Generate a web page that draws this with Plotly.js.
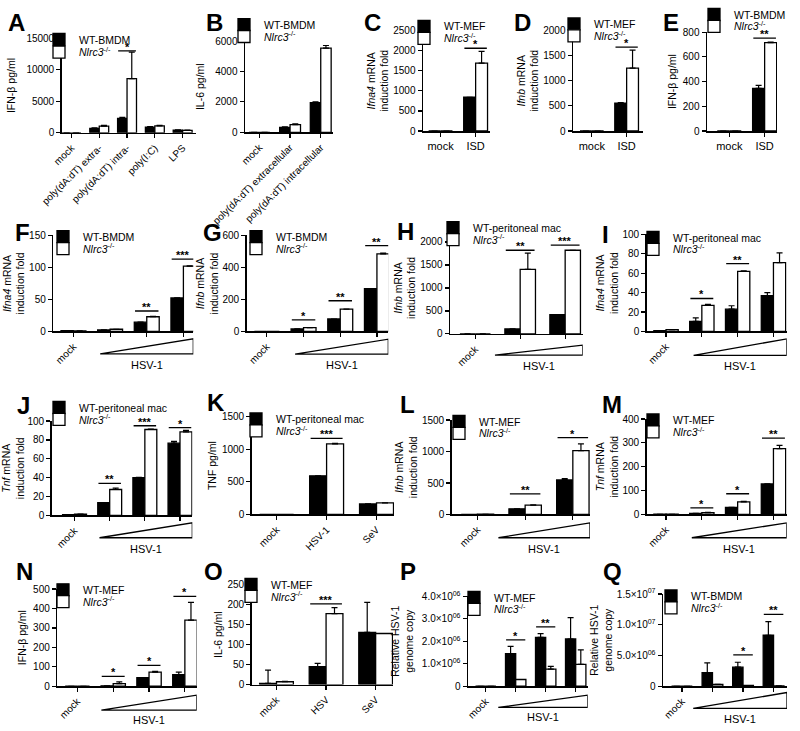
<!DOCTYPE html>
<html><head><meta charset="utf-8">
<script src="https://cdn.plot.ly/plotly-3.0.1.min.js"></script>
<style>html,body{margin:0;padding:0;background:#fff}#chart{width:800px;height:731px}</style>
</head><body><div id="chart"></div>
<script>
// ---------------- DATA ----------------
const KO_NAME = '<i>Nlrc3</i><sup>-/-</sup>';
const HSV_TICKS4 = ['mock', '', '', ''];
const HSV_TICKS3 = ['mock', '', ''];
const HSV_GROUPS4 = ['mock', 'HSV-1 low', 'HSV-1 mid', 'HSV-1 high'];
const HSV_GROUPS3 = ['mock', 'HSV-1 low', 'HSV-1 high'];

// A
const A_groups = ['mock', 'poly(dA:dT) extra-', 'poly(dA:dT) intra-', 'poly(I:C)', 'LPS'];
const A_wt = [0, 700, 2300, 900, 400];
const A_wtErr = [0, 80, 150, 100, 60];
const A_ko = [0, 1050, 8600, 1100, 380];
const A_koErr = [0, 120, 4200, 80, 50];
const A_yTicks = [0, 5000, 10000, 15000];
const A_sigGroup = [2], A_sigY = [13000], A_sigText = ['*'];
// B
const B_groups = ['mock', 'poly(dA:dT) extracellular', 'poly(dA:dT) intracellular'];
const B_wt = [0, 320, 1950];
const B_wtErr = [0, 40, 60];
const B_ko = [0, 500, 5540];
const B_koErr = [0, 60, 170];
const B_yTicks = [0, 2000, 4000, 6000];
const B_sigGroup = [2], B_sigY = [6250], B_sigText = ['**'];
// C
const C_groups = ['mock', 'ISD'];
const C_wt = [0, 840], C_wtErr = [0, 0];
const C_ko = [0, 1690], C_koErr = [0, 290];
const C_yTicks = [0, 500, 1000, 1500, 2000, 2500];
const C_sigGroup = [1], C_sigY = [2060], C_sigText = ['*'];
// D
const D_groups = ['mock', 'ISD'];
const D_wt = [0, 555], D_wtErr = [0, 10];
const D_ko = [0, 1250], D_koErr = [0, 360];
const D_yTicks = [0, 500, 1000, 1500, 2000];
const D_sigGroup = [1], D_sigY = [1670], D_sigText = ['*'];
// E
const E_groups = ['mock', 'ISD'];
const E_wt = [0, 345], E_wtErr = [0, 25];
const E_ko = [0, 715], E_koErr = [0, 5];
const E_yTicks = [0, 200, 400, 600, 800];
const E_sigGroup = [1], E_sigY = [752], E_sigText = ['**'];
// F
const F_wt = [1.5, 2.5, 14.5, 52.5], F_wtErr = [0, 0, 0, 0];
const F_ko = [1, 3.5, 23, 102], F_koErr = [0, 0, 0.5, 0.5];
const F_yTicks = [0, 50, 100, 150];
const F_sigGroup = [2, 3], F_sigY = [32, 113], F_sigText = ['**', '***'];
// G
const G_wt = [0, 16, 78, 268], G_wtErr = [0, 0, 0, 0];
const G_ko = [0, 24, 140, 485], G_koErr = [0, 0, 0, 5];
const G_yTicks = [0, 200, 400, 600];
const G_sigGroup = [1, 2, 3], G_sigY = [72, 192, 536], G_sigText = ['*', '**', '**'];
// H
const H_wt = [0, 108, 418], H_wtErr = [0, 0, 0];
const H_ko = [0, 1406, 1820], H_koErr = [0, 350, 0];
const H_yTicks = [0, 500, 1000, 1500, 2000];
const H_sigGroup = [1, 2], H_sigY = [1820, 1930], H_sigText = ['**', '***'];
// I
const I_wt = [1, 10.5, 23, 37], I_wtErr = [0, 3.5, 3.5, 3];
const I_ko = [2, 27, 62, 71], I_koErr = [0, 1, 0.5, 10];
const I_yTicks = [0, 20, 40, 60, 80, 100];
const I_sigGroup = [1, 2], I_sigY = [34, 70], I_sigText = ['*', '**'];
// J
const J_wt = [1, 13.5, 40, 76.5], J_wtErr = [0, 0, 0.5, 2];
const J_ko = [1.5, 27.5, 91, 88.5], J_koErr = [0, 1.5, 0.5, 1.5];
const J_yTicks = [0, 20, 40, 60, 80, 100];
const J_sigGroup = [1, 2, 3], J_sigY = [34, 95, 93], J_sigText = ['**', '***', '*'];
// K
const K_groups = ['mock', 'HSV-1', 'SeV'];
const K_wt = [0, 594, 162], K_wtErr = [0, 0, 0];
const K_ko = [0, 1082, 177], K_koErr = [0, 10, 0];
const K_yTicks = [0, 500, 1000, 1500];
const K_sigGroup = [1], K_sigY = [1168], K_sigText = ['***'];
// L
const L_wt = [0, 90, 548], L_wtErr = [0, 0, 20];
const L_ko = [4, 148, 1015], L_koErr = [0, 5, 105];
const L_yTicks = [0, 500, 1000, 1500];
const L_sigGroup = [1, 2], L_sigY = [326, 1220], L_sigText = ['**', '*'];
// M
const M_wt = [1, 5, 30, 128], M_wtErr = [0, 0, 0, 0];
const M_ko = [1, 8, 53, 276], M_koErr = [0, 1, 2, 14];
const M_yTicks = [0, 100, 200, 300, 400];
const M_sigGroup = [1, 2, 3], M_sigY = [28, 87, 320], M_sigText = ['*', '*', '**'];
// N
const N_wt = [0, 2, 44, 60], N_wtErr = [0, 0, 0, 13];
const N_ko = [0, 13, 73, 340], N_koErr = [0, 9, 4, 92];
const N_yTicks = [0, 100, 200, 300, 400, 500];
const N_sigGroup = [1, 2, 3], N_sigY = [51, 107, 462], N_sigText = ['*', '*', '*'];
// O
const O_groups = ['mock', 'HSV', 'SeV'];
const O_wt = [3, 45, 131], O_wtErr = [33, 8, 75];
const O_ko = [7, 178, 128], O_koErr = [1, 15, 0];
const O_yTicks = [0, 50, 100, 150, 200, 250];
const O_sigGroup = [1], O_sigY = [202], O_sigText = ['***'];
// P
const P_wt = [0, 1.45e6, 2.17e6, 2.1e6], P_wtErr = [0, 0.32e6, 0.17e6, 0.95e6];
const P_ko = [0, 0.3e6, 0.76e6, 0.97e6], P_koErr = [0, 0, 0.12e6, 0.65e6];
const P_yTicks = [0, 1e6, 2e6, 3e6, 4e6];
const P_yTickText = ['0', '1.0×10<sup>06</sup>', '2.0×10<sup>06</sup>', '3.0×10<sup>06</sup>', '4.0×10<sup>06</sup>'];
const P_sigGroup = [1, 2], P_sigY = [2.06e6, 2.64e6], P_sigText = ['*', '**'];
// Q
const Q_wt = [0, 2.2e6, 3.1e6, 8.3e6], Q_wtErr = [0, 1.6e6, 0.8e6, 2.2e6];
const Q_ko = [0, 0.3e6, 0.12e6, 0.05e6], Q_koErr = [0, 0, 0, 0];
const Q_yTicks = [0, 5e6, 1e7, 1.5e7];
const Q_yTickText = ['0', '5.0×10<sup>06</sup>', '1.0×10<sup>07</sup>', '1.5×10<sup>07</sup>'];
const Q_sigGroup = [2, 3], Q_sigY = [5.1e6, 1.17e7], Q_sigText = ['*', '**'];

// ---------------- PANEL SETUP (layout only) ----------------
const FONT = 'Liberation Sans, Arial, Helvetica, sans-serif';
const W = 800, H = 731;
const fx = p => p / W, fy = p => 1 - p / H;
const T_IFNA4 = '<i>Ifna4</i> mRNA<br>induction fold';
const T_IFNB = '<i>Ifnb</i> mRNA<br>induction fold';
const T_TNF = '<i>Tnf</i> mRNA<br>induction fold';
const T_HSV = 'Relative HSV-1<br>genome copy';

const panels = [
 {L:'A', g:A_groups, tl:A_groups, wt:A_wt, we:A_wtErr, ko:A_ko, ke:A_koErr, yt:A_yTicks, sg:A_sigGroup, sy:A_sigY, st:A_sigText, wn:'WT-BMDM', title:'IFN-β pg/ml', box:[61.7,34.5,196,129.5], xr:[-0.35,4.48], ang:-45, lg:[78,35.7,48.3], let:[16,19], so:8},
 {L:'B', g:B_groups, tl:B_groups, wt:B_wt, we:B_wtErr, ko:B_ko, ke:B_koErr, yt:B_yTicks, sg:B_sigGroup, sy:B_sigY, st:B_sigText, wn:'WT-BMDM', title:'IL-6 pg/ml', box:[245,37.3,333,129], xr:[-0.47,2.4], ang:-45, lg:[263,21.7,31.7], let:[214,19], so:8},
 {L:'C', g:C_groups, tl:C_groups, wt:C_wt, we:C_wtErr, ko:C_ko, ke:C_koErr, yt:C_yTicks, sg:C_sigGroup, sy:C_sigY, st:C_sigText, wn:'WT-MEF', title:T_IFNA4, box:[423,26.7,490,127.7], xr:[-0.5,1.41], ang:0, lg:[443,23.5,33.5], let:[372,19], so:2},
 {L:'D', g:D_groups, tl:D_groups, wt:D_wt, we:D_wtErr, ko:D_ko, ke:D_koErr, yt:D_yTicks, sg:D_sigGroup, sy:D_sigY, st:D_sigText, wn:'WT-MEF', title:T_IFNB, box:[573,26.7,643,127.7], xr:[-0.54,1.47], ang:0, lg:[593,21,31], let:[522,19], so:2},
 {L:'E', g:E_groups, tl:E_groups, wt:E_wt, we:E_wtErr, ko:E_ko, ke:E_koErr, yt:E_yTicks, sg:E_sigGroup, sy:E_sigY, st:E_sigText, wn:'WT-BMDM', title:'IFN-β pg/ml', box:[707,28.3,777,127.7], xr:[-0.63,1.35], ang:0, lg:[733,11.5,21.5], let:[671,19], so:4},
 {L:'F', g:HSV_GROUPS4, tl:HSV_TICKS4, wt:F_wt, we:F_wtErr, ko:F_ko, ke:F_koErr, yt:F_yTicks, sg:F_sigGroup, sy:F_sigY, st:F_sigText, wn:'WT-BMDM', title:T_IFNA4, box:[53.3,232.7,193.3,329.3], xr:[-0.55,3.27], ang:-45, lg:[82,235,245], let:[22,230], so:2, tri:[0.73,336.7,351.7,363.3]},
 {L:'G', g:HSV_GROUPS4, tl:HSV_TICKS4, wt:G_wt, we:G_wtErr, ko:G_ko, ke:G_koErr, yt:G_yTicks, sg:G_sigGroup, sy:G_sigY, st:G_sigText, wn:'WT-BMDM', title:T_IFNB, box:[246.7,232.7,388.3,329.3], xr:[-0.55,3.31], ang:-45, lg:[275,235,245], let:[212,230], so:2, tri:[0.77,337,352,363.3]},
 {L:'H', g:HSV_GROUPS3, tl:HSV_TICKS3, wt:H_wt, we:H_wtErr, ko:H_ko, ke:H_koErr, yt:H_yTicks, sg:H_sigGroup, sy:H_sigY, st:H_sigText, wn:'WT-peritoneal mac', title:T_IFNB, box:[450,239.3,582.7,331.7], xr:[-0.56,2.39], ang:-45, lg:[472,226,236], let:[405,229], so:2, tri:[0.44,343,353,364]},
 {L:'I', g:HSV_GROUPS4, tl:HSV_TICKS4, wt:I_wt, we:I_wtErr, ko:I_ko, ke:I_koErr, yt:I_yTicks, sg:I_sigGroup, sy:I_sigY, st:I_sigText, wn:'WT-peritoneal mac', title:T_IFNA4, box:[646.7,231.7,786.7,329.3], xr:[-0.54,3.37], ang:-45, lg:[672,235.7,245.7], let:[605,232], so:2, tri:[0.77,336.7,353.3,364]},
 {L:'J', g:HSV_GROUPS4, tl:HSV_TICKS4, wt:J_wt, we:J_wtErr, ko:J_ko, ke:J_koErr, yt:J_yTicks, sg:J_sigGroup, sy:J_sigY, st:J_sigText, wn:'WT-peritoneal mac', title:T_TNF, box:[51.7,419.3,192.3,514.3], xr:[-0.65,3.35], ang:-45, lg:[78,406.7,416.7], let:[23,404], so:2, tri:[0.71,521.7,536.7,548.3]},
 {L:'K', g:K_groups, tl:K_groups, wt:K_wt, we:K_wtErr, ko:K_ko, ke:K_koErr, yt:K_yTicks, sg:K_sigGroup, sy:K_sigY, st:K_sigText, wn:'WT-peritoneal mac', title:'TNF pg/ml', box:[251.7,415,394,513.3], xr:[-0.5,2.35], ang:-45, lg:[275,418.3,428.3], let:[216,401], so:3},
 {L:'L', g:HSV_GROUPS3, tl:HSV_TICKS3, wt:L_wt, we:L_wtErr, ko:L_ko, ke:L_koErr, yt:L_yTicks, sg:L_sigGroup, sy:L_sigY, st:L_sigText, wn:'WT-MEF', title:T_IFNB, box:[451.7,418.3,590,513.3], xr:[-0.54,2.36], ang:-45, lg:[478,420.7,430.7], let:[407,403], so:2, tri:[0.44,521.7,536.7,548.3]},
 {L:'M', g:HSV_GROUPS4, tl:HSV_TICKS4, wt:M_wt, we:M_wtErr, ko:M_ko, ke:M_koErr, yt:M_yTicks, sg:M_sigGroup, sy:M_sigY, st:M_sigText, wn:'WT-MEF', title:T_TNF, box:[646.7,417.3,786.7,513.3], xr:[-0.54,3.37], ang:-45, lg:[672,419.3,429.3], let:[612,403], so:2, tri:[0.72,521.7,536.7,548.3]},
 {L:'N', g:HSV_GROUPS4, tl:HSV_TICKS4, wt:N_wt, we:N_wtErr, ko:N_ko, ke:N_koErr, yt:N_yTicks, sg:N_sigGroup, sy:N_sigY, st:N_sigText, wn:'WT-MEF', title:'IFN-β pg/ml', box:[57.3,588.3,196.7,686], xr:[-0.56,3.33], ang:-45, lg:[82,590,600], let:[24,571], so:4, tri:[0.67,695,710,720]},
 {L:'O', g:O_groups, tl:O_groups, wt:O_wt, we:O_wtErr, ko:O_ko, ke:O_koErr, yt:O_yTicks, sg:O_sigGroup, sy:O_sigY, st:O_sigText, wn:'WT-MEF', title:'IL-6 pg/ml', box:[251.7,584,393,684.3], xr:[-0.5,2.35], ang:-45, lg:[270,584.3,595], let:[213,571], so:3},
 {L:'P', g:HSV_GROUPS4, tl:HSV_TICKS4, wt:P_wt, we:P_wtErr, ko:P_ko, ke:P_koErr, yt:P_yTicks, ytt:P_yTickText, sg:P_sigGroup, sy:P_sigY, st:P_sigText, wn:'WT-MEF', title:T_HSV, box:[468,595.5,587.7,686], xr:[-0.59,3.4], ang:-45, lg:[493,597.7,607.7], let:[408,571], so:6, tri:[0.42,695,707.3,716.7]},
 {L:'Q', g:HSV_GROUPS4, tl:HSV_TICKS4, wt:Q_wt, we:Q_wtErr, ko:Q_ko, ke:Q_koErr, yt:Q_yTicks, ytt:Q_yTickText, sg:Q_sigGroup, sy:Q_sigY, st:Q_sigText, wn:'WT-BMDM', title:T_HSV, box:[663,593.3,787,686], xr:[-0.62,3.44], ang:-45, lg:[690,595.7,606.7], let:[612,571], so:2, tri:[0.37,692.3,708.3,719.3]}
];

const traces = [];
const layout = {
  width: W, height: H, margin: {l:0, r:0, t:0, b:0},
  paper_bgcolor: 'white', plot_bgcolor: 'rgba(0,0,0,0)',
  font: {family: FONT, size: 10, color: 'black'},
  barmode: 'group', bargap: 0.32, bargroupgap: 0,
  showlegend: true, annotations: [], shapes: []
};

panels.forEach((p, i) => {
  const n = i + 1;
  const xr = n === 1 ? 'x' : 'x' + n, yr = n === 1 ? 'y' : 'y' + n;
  const xk = n === 1 ? 'xaxis' : 'xaxis' + n, yk = n === 1 ? 'yaxis' : 'yaxis' + n;
  const l1 = (2 * i + 1) === 1 ? 'legend' : 'legend' + (2 * i + 1);
  const l2 = 'legend' + (2 * i + 2);
  const idx = p.g.map((_, k) => k);
  const zeros = p.g.map(() => 0);
  traces.push({type:'bar', name:p.wn, x:idx, y:p.wt, xaxis:xr, yaxis:yr, legend:l1, showlegend:true,
    hovertext:p.g, marker:{color:'black', line:{color:'black', width:1.3}},
    error_y:{type:'data', symmetric:false, array:p.we, arrayminus:zeros, color:'black', thickness:1.2, width:3}});
  traces.push({type:'bar', name:KO_NAME, x:idx, y:p.ko, xaxis:xr, yaxis:yr, legend:l2, showlegend:true,
    hovertext:p.g, marker:{color:'white', line:{color:'black', width:1.3}},
    error_y:{type:'data', symmetric:false, array:p.ke, arrayminus:zeros, color:'black', thickness:1.2, width:3}});
  const [bl, bt, br, bb] = p.box;
  // labelled ticks only where a label exists; every group gets a tick mark
  const labIdx = idx.filter(k => p.tl[k] !== '');
  layout[xk] = {domain:[fx(bl), fx(br)], range:p.xr, anchor:yr, tickmode:'array', tickvals:labIdx,
    ticktext:labIdx.map(k => p.tl[k]),
    tickangle:p.ang, showline:true, linecolor:'black', linewidth:1.5, ticks:'outside', ticklen:4, tickwidth:1.2,
    tickcolor:'black', showgrid:false, zeroline:false, fixedrange:true,
    minor:{tickmode:'array', tickvals:idx, ticks:'outside', ticklen:4, tickwidth:1.2, tickcolor:'black', showgrid:false},
    tickfont:{family:FONT, size: p.ang === 0 ? 11 : 10, color:'black'}};
  const ymax = p.yt[p.yt.length - 1];
  layout[yk] = {domain:[fy(bb), fy(bt)], range:[0, ymax], anchor:xr, tickmode:'array', tickvals:p.yt,
    ticktext: p.ytt || p.yt.map(String), showline:true, linecolor:'black', linewidth:1.5, ticks:'outside',
    ticklen:4, tickwidth:1.2, tickcolor:'black', showgrid:false, zeroline:false, fixedrange:true,
    tickfont:{family:FONT, size:10, color:'black'},
    title:{text:p.title, font:{family:FONT, size:10.5, color:'black'}, standoff:p.so}};
  // legends (one row each); keep rows at least 12 px apart
  const mid = (p.lg[1] + p.lg[2]) / 2, half = Math.max(6, (p.lg[2] - p.lg[1]) / 2);
  [[l1, mid - half], [l2, mid + half]].forEach(([lk, row]) => {
    layout[lk] = {x:fx(p.lg[0] - 39), y:fy(row), xanchor:'left', yanchor:'middle', bgcolor:'rgba(0,0,0,0)',
      borderwidth:0, itemwidth:30, tracegroupgap:0, font:{family:FONT, size:10.5, color:'black'}};
  });
  // panel letter
  layout.annotations.push({xref:'paper', yref:'paper', x:fx(p.let[0]), y:fy(p.let[1]), xanchor:'center', yanchor:'middle',
    text:'<b>' + p.L + '</b>', showarrow:false, font:{family:FONT, size:24, color:'black'}});
  // significance markers
  p.sg.forEach((gi, k) => {
    layout.shapes.push({type:'line', xref:xr, yref:yr, x0:gi - 0.32, x1:gi + 0.32, y0:p.sy[k], y1:p.sy[k],
      line:{color:'black', width:1.3}});
    layout.annotations.push({xref:xr, yref:yr, x:gi, y:p.sy[k], text:'<b>' + p.st[k] + '</b>', showarrow:false, xanchor:'center',
      yanchor:'bottom', yshift:-4, font:{family:FONT, size:11, color:'black'}});
  });
  // dose ramp triangle + HSV-1 label
  if (p.tri) {
    const [ts, tt, tb, tly] = p.tri;
    const xe = p.xr[1];
    layout.shapes.push({type:'path', xref:xr, yref:'paper',
      path:`M${ts},${fy(tb)} L${xe},${fy(tb)} L${xe},${fy(tt)} Z`, fillcolor:'white', line:{color:'black', width:1.3}});
    layout.annotations.push({xref:xr, yref:'paper', x:(ts + xe) / 2, y:fy(tly), text:'HSV-1', showarrow:false,
      xanchor:'center', yanchor:'middle', font:{family:FONT, size:11, color:'black'}});
  }
});

Plotly.newPlot('chart', traces, layout, {displayModeBar:false, staticPlot:true});
</script>
</body></html>
